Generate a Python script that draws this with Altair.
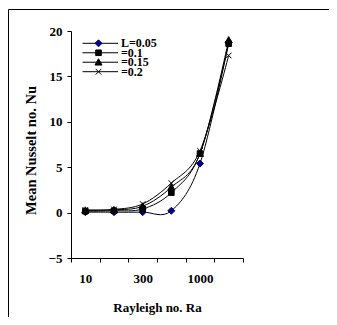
import altair as alt
import pandas as pd

categories = ["10", "100", "300", "500", "1000", "2000"]
shown_labels = ["10", "300", "1000"]
series = ["L=0.05", "\u2009=0.1", "\u2009=0.15", "\u2009=0.2"]
nu_005 = [0.05, 0.05, 0.05, 0.2, 5.4, 18.7]
nu_01 = [0.15, 0.2, 0.4, 2.2, 6.5, 18.6]
nu_015 = [0.25, 0.3, 0.7, 2.8, 6.5, 19.0]
nu_02 = [0.3, 0.35, 0.95, 3.25, 6.8, 17.3]

rows = []
for name, vals in zip(series, [nu_005, nu_01, nu_015, nu_02]):
    for c, v in zip(categories, vals):
        rows.append({"Ra": c, "Nu": v, "series": name})
df = pd.DataFrame(rows)
leg_df = pd.DataFrame({"series": series})

FONT = "Liberation Serif"
navy = "#000080"

plot_shapes = [
    "M0,-1L1,0L0,1L-1,0Z",
    "M-0.8,-0.8H0.8V0.8H-0.8Z",
    "M0,-1L1,0.8H-1Z",
    "M-0.8,-0.8L0.8,0.8M-0.8,0.8L0.8,-0.8",
]
marker_fill = [navy, "black", "black", "black"]
marker_stroke = [navy, "black", "black", "black"]

shape_enc = alt.Shape("series:N", sort=series,
                      scale=alt.Scale(domain=series, range=plot_shapes), legend=None)
fill_enc = alt.Fill("series:N", sort=series,
                    scale=alt.Scale(domain=series, range=marker_fill), legend=None)
stroke_enc = alt.Stroke("series:N", sort=series,
                        scale=alt.Scale(domain=series, range=marker_stroke), legend=None)

x_enc = alt.X(
    "Ra:N",
    sort=categories,
    scale=alt.Scale(type="band", paddingInner=0, paddingOuter=0),
    axis=alt.Axis(
        title="Rayleigh no. Ra",
        labelAngle=0,
        tickBand="extent",
        labelExpr="indexof(" + str(shown_labels) + ", datum.value) >= 0 ? datum.label : ''",
        labelPadding=10,
        titlePadding=16,
    ),
)
y_enc = alt.Y(
    "Nu:Q",
    scale=alt.Scale(domain=[-5, 20], nice=False, zero=False),
    axis=alt.Axis(title="Mean Nusselt no. Nu", values=[-5, 0, 5, 10, 15, 20],
                  labelPadding=5, titlePadding=10, titleY=119),
)

base = alt.Chart(df)

lines = base.mark_line(interpolate="cardinal", color="black", strokeWidth=1).encode(
    x=x_enc, y=y_enc, detail="series:N"
)

points = base.mark_point(filled=True, size=49, strokeWidth=1, opacity=1).encode(
    x=x_enc, y=y_enc, shape=shape_enc, fill=fill_enc, stroke=stroke_enc,
)

main = alt.layer(lines, points)

# legend drawn inside the plot, top-left
leg_base = alt.Chart(leg_df).encode(
    y=alt.Y("series:N", sort=series,
            scale=alt.Scale(type="point", domain=series, range=[12.3, 40.7], padding=0),
            axis=None)
)
leg_rule = leg_base.mark_rule(color="black", strokeWidth=1).encode(
    x=alt.value(11.5), x2=alt.value(47)
)
leg_pts = leg_base.mark_point(filled=True, size=49, strokeWidth=1, opacity=1).encode(
    x=alt.value(27.5), shape=shape_enc, fill=fill_enc, stroke=stroke_enc,
)
leg_txt = leg_base.mark_text(
    align="left", baseline="middle", font=FONT, fontWeight="bold", fontSize=12, color="black"
).encode(x=alt.value(50), text="series:N")
legend = alt.layer(leg_rule, leg_pts, leg_txt)

border = alt.Chart(alt.Data(values=[{"a": 1}])).mark_rect(
    fillOpacity=0, stroke="black", strokeWidth=1
).encode(
    x=alt.value(-62.5), x2=alt.value(265.5), y=alt.value(-21.5), y2=alt.value(320)
)

chart = alt.layer(main, legend, border).resolve_scale(
    y="independent"
).properties(
    width=172,
    height=227,
    autosize=alt.AutoSizeParams(type="none"),
    padding={"left": 63, "top": 23, "right": 86, "bottom": 59},
    background="white",
).configure_view(stroke=None).configure_axis(
    labelFont=FONT, titleFont=FONT, labelFontWeight="bold", titleFontWeight="bold",
    labelColor="black", titleColor="black", labelFontSize=13, titleFontSize=13,
    domainColor="black", tickColor="black", tickSize=4, grid=False,
    domainWidth=1, tickWidth=1,
).configure_axisY(titleFontSize=14.5)

chart.save("out.html", embed_options={"renderer": "svg", "actions": False})
